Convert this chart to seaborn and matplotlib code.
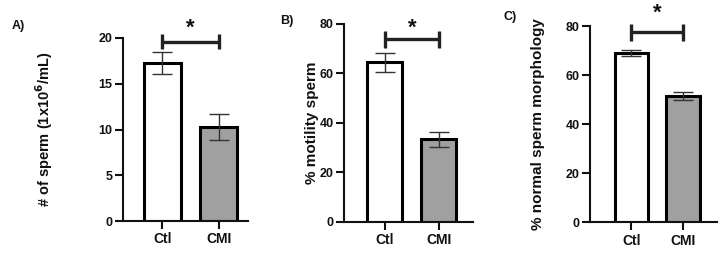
import matplotlib
matplotlib.use('Agg')
import matplotlib.pyplot as plt
import seaborn as sns

# Data (mean +/- SEM)
groups = ['Ctl', 'CMI']
sperm_count = [17.3, 10.25]
sperm_count_sem = [1.2, 1.4]
motility = [64.5, 33.3]
motility_sem = [3.8, 3.1]
morphology = [69.0, 51.5]
morphology_sem = [1.2, 1.65]
sig_levels = [19.6, 73.8, 77.4]

sns.set_theme(style='ticks')
plt.rcParams['font.family'] = ['Liberation Sans', 'DejaVu Sans']
plt.rcParams['font.weight'] = 'bold'
plt.rcParams['mathtext.default'] = 'bf'
plt.rcParams['axes.linewidth'] = 1.5
plt.rcParams['text.color'] = '#111111'
plt.rcParams['axes.labelcolor'] = '#111111'
plt.rcParams['xtick.color'] = '#111111'
plt.rcParams['ytick.color'] = '#111111'
plt.rcParams['axes.edgecolor'] = '#111111'

fig = plt.figure(figsize=(7.24, 2.58), dpi=100)

panels = [
    dict(vals=sperm_count, sem=sperm_count_sem, ylabel='# of sperm (1x10$^{6}$/mL)',
         ylim=(0, 20), yticks=[0, 5, 10, 15, 20], rect=[0.170, 0.143, 0.173, 0.710],
         xlim=(-0.69, 1.52), label='A)', label_xy=(0.025, 0.90), ylab_x=-0.63, ylab_size=10.5,
         star_y=0.89),
    dict(vals=motility, sem=motility_sem, ylabel='% motility sperm',
         ylim=(0, 80), yticks=[0, 20, 40, 60, 80], rect=[0.475, 0.141, 0.178, 0.766],
         xlim=(-0.76, 1.63), label='B)', label_xy=(0.396, 0.92), ylab_x=-0.245, ylab_size=11,
         star_y=0.89),
    dict(vals=morphology, sem=morphology_sem, ylabel='% normal sperm morphology',
         ylim=(0, 80), yticks=[0, 20, 40, 60, 80], rect=[0.815, 0.138, 0.175, 0.761],
         xlim=(-0.8, 1.66), label='C)', label_xy=(0.704, 0.935), ylab_x=-0.413, ylab_size=11,
         star_y=0.95),
]

for p, sig in zip(panels, sig_levels):
    ax = fig.add_axes(p['rect'])
    sns.barplot(x=groups, y=p['vals'], hue=groups, palette=['white', '#a0a0a0'],
                legend=False, edgecolor='black', linewidth=2.2, width=0.65, ax=ax)
    ax.errorbar(x=[0, 1], y=p['vals'], yerr=p['sem'], fmt='none', ecolor='#333333',
                elinewidth=1, capsize=7, capthick=1, zorder=5)

    # significance bracket
    ax.plot([0, 1], [sig, sig], color='#222222', lw=2.4, solid_capstyle='butt', clip_on=False)
    h = (p['ylim'][1] - p['ylim'][0]) * 0.042
    ax.vlines([0, 1], sig - h, sig + h, color='#222222', lw=2.4, clip_on=False)
    # star centred between the bars
    star_x = p['rect'][0] + p['rect'][2] * (0.5 - p['xlim'][0]) / (p['xlim'][1] - p['xlim'][0])
    fig.text(star_x, p['star_y'], '*', ha='center', va='center', fontsize=16, fontweight='bold')

    ax.set_xlim(p['xlim'])
    ax.set_ylim(p['ylim'])
    ax.set_yticks(p['yticks'])
    ax.set_ylabel(p['ylabel'], fontsize=p['ylab_size'], fontweight='bold')
    ax.yaxis.label.set_va('center')
    ax.yaxis.set_label_coords(p['ylab_x'], 0.5)
    ax.set_xlabel('')
    ax.tick_params(axis='y', length=6, width=1.5, pad=1.5, labelsize=9)
    ax.tick_params(axis='x', length=6, width=1.5, pad=2, labelsize=10)
    for t in ax.get_xticklabels() + ax.get_yticklabels():
        t.set_fontweight('bold')
    sns.despine(ax=ax)
    fig.text(p['label_xy'][0], p['label_xy'][1], p['label'], ha='center', va='center',
             fontsize=9, fontweight='bold')

fig.savefig('out.png', dpi=100)
